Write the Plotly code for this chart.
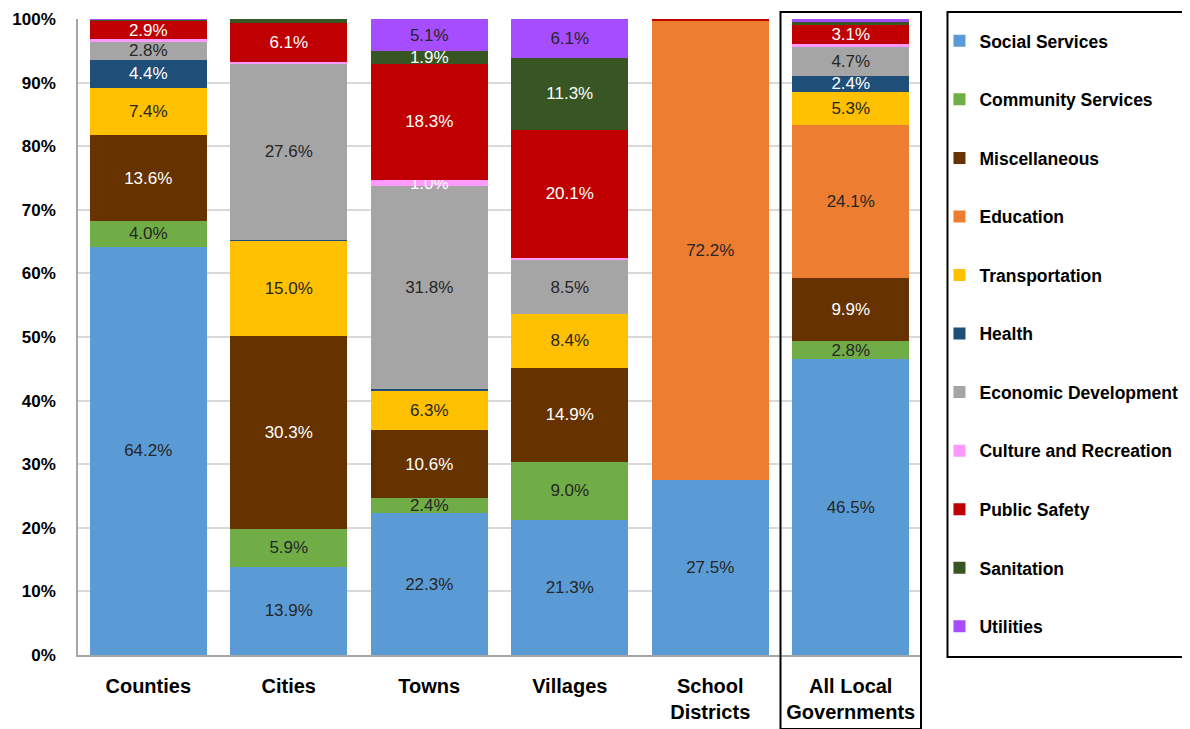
import plotly.graph_objects as go

categories = ["Counties", "Cities", "Towns", "Villages", "School<br>Districts", "All Local<br>Governments"]

series_names = ["Social Services", "Community Services", "Miscellaneous", "Education",
                "Transportation", "Health", "Economic Development", "Culture and Recreation",
                "Public Safety", "Sanitation", "Utilities"]

social_services = [64.2, 13.9, 22.3, 21.3, 27.5, 46.5]
community_services = [4.0, 5.9, 2.4, 9.0, 0.0, 2.8]
miscellaneous = [13.6, 30.3, 10.6, 14.9, 0.0, 9.9]
education = [0.0, 0.0, 0.0, 0.0, 72.2, 24.1]
transportation = [7.4, 15.0, 6.3, 8.4, 0.0, 5.3]
health = [4.4, 0.2, 0.3, 0.0, 0.0, 2.4]
economic_development = [2.8, 27.6, 31.8, 8.5, 0.0, 4.7]
culture_recreation = [0.4, 0.4, 1.0, 0.4, 0.0, 0.3]
public_safety = [2.9, 6.1, 18.3, 20.1, 0.3, 3.1]
sanitation = [0.2, 0.6, 1.9, 11.3, 0.0, 0.4]
utilities = [0.1, 0.0, 5.1, 6.1, 0.0, 0.5]

series_values = [social_services, community_services, miscellaneous, education,
                 transportation, health, economic_development, culture_recreation,
                 public_safety, sanitation, utilities]

colors = ["#5B9BD5", "#70AD47", "#663300", "#ED7D31", "#FFC000", "#1F4E79",
          "#A5A5A5", "#FF99FF", "#C00000", "#375623", "#A64DFF"]
text_colors = ["#262626", "#262626", "#FFFFFF", "#262626", "#262626", "#FFFFFF",
               "#262626", "#FFFFFF", "#FFFFFF", "#FFFFFF", "#262626"]

fig = go.Figure()
for i, (name, vals) in enumerate(zip(series_names, series_values)):
    fig.add_trace(go.Bar(
        name=name,
        x=categories,
        y=[v / 100 for v in vals],
        marker=dict(color=colors[i], line=dict(width=0)),
        text=[f"{v:.1f}%" if v >= 1.0 else "" for v in vals],
        textposition="inside",
        insidetextanchor="middle",
        textfont=dict(color=text_colors[i], size=17, family="Liberation Sans, Arial"),
        legendgroup=f"g{i}",
        cliponaxis=False,
    ))

fig.update_layout(
    barmode="stack",
    bargap=0.17,
    width=1190, height=729,
    margin=dict(l=70, r=275.5, t=11, b=82, autoexpand=False),
    plot_bgcolor="white", paper_bgcolor="white",
    font=dict(family="Liberation Sans, Arial", color="black"),
    uniformtext=dict(minsize=17, mode="show"),
    legend=dict(
        x=1.0207, y=0.9938, xanchor="left", yanchor="top",
        borderwidth=0, bgcolor="rgba(0,0,0,0)",
        font=dict(size=17.5, family="Liberation Sans, Arial", color="black", weight="bold"),
        traceorder="grouped", tracegroupgap=32.8,
        itemwidth=30, maxheight=720,
    ),
    xaxis=dict(
        showline=True, linecolor="#A6A6A6", linewidth=1.5,
        tickfont=dict(size=20, family="Liberation Sans, Arial", color="black", weight="bold"),
        ticks="", ticklabelstandoff=12,
    ),
    yaxis=dict(
        range=[0, 1], dtick=0.1, tickformat=".0%",
        showgrid=True, gridcolor="#D9D9D9", gridwidth=1.5,
        showline=True, linecolor="#A6A6A6", linewidth=1.5,
        tickfont=dict(size=17, family="Liberation Sans, Arial", color="black", weight="bold"),
        ticks="", zeroline=False, ticklabelstandoff=17,
    ),
)

# legend frame
fig.add_shape(type="rect", xref="paper", yref="paper",
              x0=1.0302, x1=1.3144, y0=-0.0031, y1=1.011,
              line=dict(color="black", width=2), fillcolor="rgba(0,0,0,0)", layer="above")
# highlight frame around "All Local Governments"
fig.add_shape(type="rect", xref="x", yref="paper",
              x0=4.5, x1=5.5, y0=-0.1164, y1=1.011,
              line=dict(color="black", width=2), fillcolor="rgba(0,0,0,0)", layer="above")

fig.write_html("out.html")
